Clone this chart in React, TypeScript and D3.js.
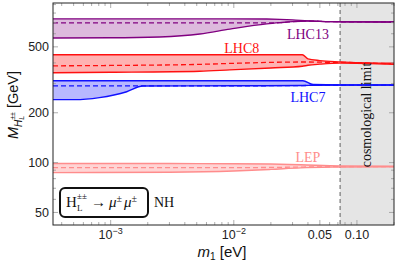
import * as d3 from 'd3';

// plot frame in px
const W = 399;
const H = 268;
const margin = { top: 3, right: 5, bottom: 43, left: 53 };

// axis domains
const m1Domain = [3.4e-4, 0.2];
const massDomain = [42, 920];
const cosmoLimit = 0.073;

const xMajorTicks = [1e-3, 1e-2, 0.05, 0.1];
const xTickLabels = [['10', '−3'], ['10', '−2'], ['0.05', ''], ['0.10', '']];
const yMajorTicks = [50, 100, 200, 500];
const yTickLabels = ['50', '100', '200', '500'];

// LHC13 (purple)
const lhc13M1 = [3.4e-4, 1e-3, 2.5e-3, 5.3e-3, 9.3e-3, 0.0185, 0.0237, 0.03, 0.04, 0.06, 0.2];
const lhc13Upper = [738, 738, 738, 738, 738, 736, 733, 728, 718, 710, 707];
const lhc13Lower = [566, 567, 574, 598, 640, 688, 700, 710, 716, 710, 707];
const lhc13Mid = [698, 698, 698, 698, 698, 698, 700, 710, 716, 710, 707];

// LHC8 (red)
const lhc8M1 = [3.4e-4, 1e-3, 5.3e-3, 9.3e-3, 0.02, 0.036, 0.04, 0.05, 0.073, 0.2];
const lhc8Upper = [448, 448, 448, 448, 448, 448, 423, 413, 406, 398];
const lhc8Lower = [349, 351, 356, 363, 373, 382, 387, 393, 399, 392];
const lhc8Mid = [384, 386, 392, 397, 403, 405, 405, 404, 403, 395];

// LHC7 (blue)
const lhc7M1 = [3.4e-4, 5.1e-4, 8.1e-4, 1.35e-3, 1.82e-3, 0.01, 0.0364, 0.044, 0.073, 0.2];
const lhc7Upper = [312, 312, 312, 312, 312, 312, 312, 296, 294, 294];
const lhc7Lower = [240, 240, 247, 268, 290, 291, 292, 293, 294, 294];
const lhc7Mid = [291, 291, 291, 291, 291, 291, 292, 293, 294, 294];

// LEP (light red)
const lepM1 = [3.4e-4, 3e-3, 0.01, 0.02, 0.035, 0.073, 0.2];
const lepUpper = [98.7, 98.7, 98.5, 98, 97, 95.5, 95];
const lepLower = [87, 87.5, 89, 91, 93, 94, 94.5];
const lepMid = [93.3, 93.3, 93.3, 93.5, 94, 94.5, 94.7];

interface Band {
  name: string;
  m1: number[];
  upper: number[];
  lower: number[];
  mid: number[];
  line: string;
  fill: string;
  labelAt: [number, number];
}

const bands: Band[] = [
  { name: 'LEP', m1: lepM1, upper: lepUpper, lower: lepLower, mid: lepMid, line: '#ff8c8c', fill: '#ffcfcf', labelAt: [0.04, 101] },
  { name: 'LHC7', m1: lhc7M1, upper: lhc7Upper, lower: lhc7Lower, mid: lhc7Mid, line: '#1010ff', fill: '#b0b0ff', labelAt: [0.04, 233] },
  { name: 'LHC8', m1: lhc8M1, upper: lhc8Upper, lower: lhc8Lower, mid: lhc8Mid, line: '#ff1010', fill: '#ffaaaa', labelAt: [0.0116, 460] },
  { name: 'LHC13', m1: lhc13M1, upper: lhc13Upper, lower: lhc13Lower, mid: lhc13Mid, line: '#800080', fill: '#d9b2d9', labelAt: [0.04, 560] },
];

const sans = 'Liberation Sans, Arial, sans-serif';
const serif = 'Liberation Serif, Times New Roman, serif';

export default function App() {
  const x = d3.scaleLog().domain(m1Domain).range([margin.left, W - margin.right]);
  const y = d3.scaleLog().domain(massDomain).range([H - margin.bottom, margin.top]);
  const [x0, x1] = x.range();
  const [y0, y1] = y.range(); // y0 bottom, y1 top

  const curve = d3.curveMonotoneX;
  const area = (b: Band) =>
    d3.area<number>()
      .x((_, i) => x(b.m1[i]))
      .y0((_, i) => y(b.lower[i]))
      .y1((_, i) => y(b.upper[i]))
      .curve(curve)(b.m1) || '';
  const line = (b: Band, vals: number[]) =>
    d3.line<number>()
      .x((_, i) => x(b.m1[i]))
      .y((_, i) => y(vals[i]))
      .curve(curve)(b.m1) || '';

  const xMinor = x.ticks().filter(t => !xMajorTicks.some(m => Math.abs(m - t) / t < 1e-6));
  const yMinor = y.ticks().filter(t => !yMajorTicks.includes(t));

  return (
    <svg width={W} height={H} style={{ position: 'absolute', left: 0, top: 0, background: '#fff' }}>
      <defs>
        <clipPath id="plot">
          <rect x={x0} y={y1} width={x1 - x0} height={y0 - y1} />
        </clipPath>
      </defs>

      {/* cosmological limit region */}
      <rect x={x(cosmoLimit)} y={y1} width={x1 - x(cosmoLimit)} height={y0 - y1} fill="#e5e5e5" />
      <line x1={x(cosmoLimit)} x2={x(cosmoLimit)} y1={y1} y2={y0} stroke="#777" strokeWidth={1.2} strokeDasharray="4,3" />

      <g clipPath="url(#plot)">
        {bands.map(b => (
          <g key={b.name}>
            <path d={area(b)} fill={b.fill} opacity={0.9} />
            <path d={line(b, b.upper)} fill="none" stroke={b.line} strokeWidth={1.4} />
            <path d={line(b, b.lower)} fill="none" stroke={b.line} strokeWidth={1.4} />
            <path d={line(b, b.mid)} fill="none" stroke={b.line} strokeWidth={1.3} strokeDasharray="5,3" />
          </g>
        ))}
      </g>

      {bands.map(b => (
        <text key={b.name + '-label'} x={x(b.labelAt[0])} y={y(b.labelAt[1])} textAnchor="middle"
          fontFamily={serif} fontSize={14} fill={b.line}>{b.name}</text>
      ))}

      <text transform={`translate(371,${115}) rotate(-90)`} textAnchor="middle" fontFamily={serif} fontSize={14} fill="#111">
        cosmological limit
      </text>

      {/* ticks */}
      <g stroke="#999" strokeWidth={0.8}>
        {xMajorTicks.map(t => (
          <g key={'xM' + t}>
            <line x1={x(t)} x2={x(t)} y1={y0} y2={y0 - 5} />
            <line x1={x(t)} x2={x(t)} y1={y1} y2={y1 + 5} />
          </g>
        ))}
        {xMinor.map(t => (
          <g key={'xm' + t}>
            <line x1={x(t)} x2={x(t)} y1={y0} y2={y0 - 3} />
            <line x1={x(t)} x2={x(t)} y1={y1} y2={y1 + 3} />
          </g>
        ))}
        {yMajorTicks.map(t => (
          <g key={'yM' + t}>
            <line x1={x0} x2={x0 + 5} y1={y(t)} y2={y(t)} />
            <line x1={x1} x2={x1 - 5} y1={y(t)} y2={y(t)} />
          </g>
        ))}
        {yMinor.map(t => (
          <g key={'ym' + t}>
            <line x1={x0} x2={x0 + 3} y1={y(t)} y2={y(t)} />
            <line x1={x1} x2={x1 - 3} y1={y(t)} y2={y(t)} />
          </g>
        ))}
      </g>

      {/* frame */}
      <rect x={x0} y={y1} width={x1 - x0} height={y0 - y1} fill="none" stroke="#222" strokeWidth={1} />

      {/* tick labels */}
      {xMajorTicks.map((t, i) => (
        <text key={'xl' + t} x={x(t)} y={y0 + 14} textAnchor="middle" fontFamily={sans} fontSize={12.5} fill="#222">
          {xTickLabels[i][0]}
          {xTickLabels[i][1] && <tspan dy={-5} fontSize={9}>{xTickLabels[i][1]}</tspan>}
        </text>
      ))}
      {yMajorTicks.map((t, i) => (
        <text key={'yl' + t} x={x0 - 4} y={y(t) + 4.5} textAnchor="end" fontFamily={sans} fontSize={12.5} fill="#222">
          {yTickLabels[i]}
        </text>
      ))}

      {/* axis titles */}
      <text x={222} y={257} textAnchor="middle" fontFamily={sans} fontSize={15} fill="#111">
        <tspan fontStyle="italic">m</tspan>
        <tspan dy={3} fontSize={10}>1</tspan>
        <tspan dy={-3}> [eV]</tspan>
      </text>
      <text transform={`translate(18,105) rotate(-90)`} textAnchor="middle" fontFamily={sans} fontSize={14.5} fill="#111">
        <tspan fontStyle="italic">M</tspan>
        <tspan dy={4} fontSize={10} fontStyle="italic">H</tspan>
        <tspan dy={2} fontSize={7} fontStyle="italic">L</tspan>
        <tspan dx={-4} dy={-9} fontSize={7}>±±</tspan>
        <tspan dy={3}> [GeV]</tspan>
      </text>

      {/* legend box */}
      <rect x={60} y={188} width={88} height={29} rx={5} fill="#fff" stroke="#111" strokeWidth={2} />
      <text x={66} y={207} fontFamily={serif} fontSize={15} fill="#111">H</text>
      <text x={77} y={199} fontFamily={serif} fontSize={9} fill="#111">±±</text>
      <text x={77} y={211} fontFamily={serif} fontSize={9} fill="#111">L</text>
      <text x={91} y={207} fontFamily={serif} fontSize={15} fill="#111">
        →
        <tspan dx={3} fontStyle="italic">μ</tspan>
        <tspan dy={-5} fontSize={10}>±</tspan>
        <tspan dx={2} dy={5} fontStyle="italic">μ</tspan>
        <tspan dy={-5} fontSize={10}>±</tspan>
      </text>
      <text x={154} y={207} fontFamily={serif} fontSize={14} fill="#111">NH</text>
    </svg>
  );
}
